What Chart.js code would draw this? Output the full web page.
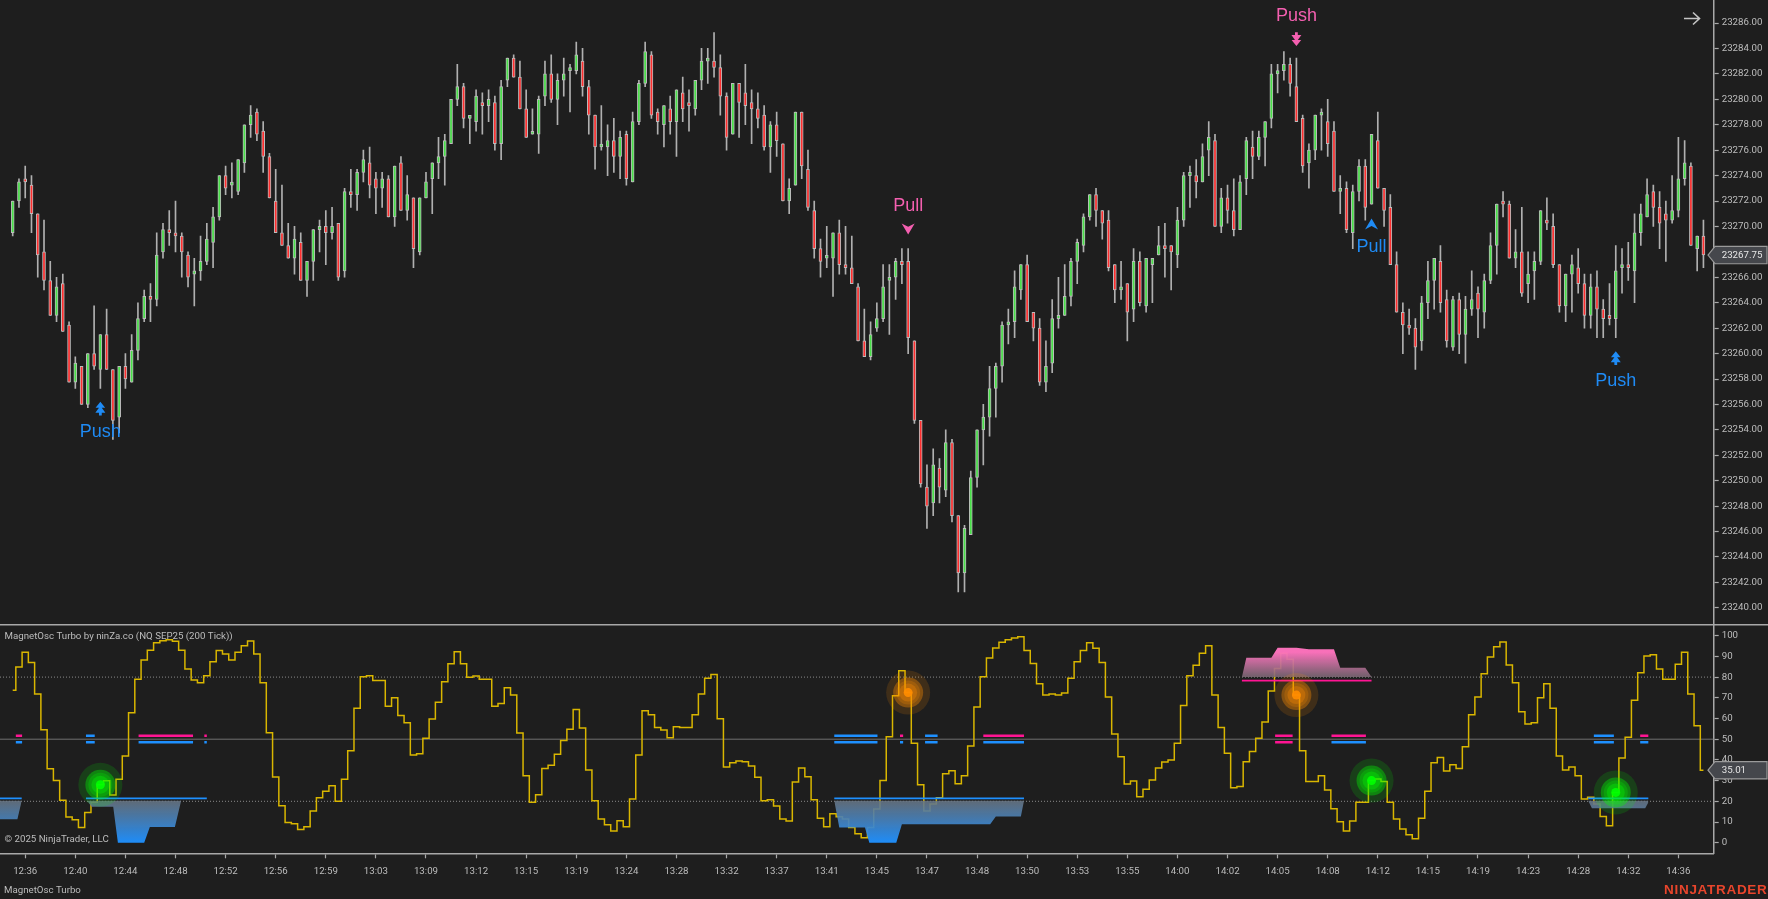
<!DOCTYPE html>
<html>
<head>
<meta charset="utf-8">
<script src="https://cdn.jsdelivr.net/npm/chart.js@4"></script>
<style>
html,body{margin:0;padding:0;background:#1e1e1e;overflow:hidden;width:1768px;height:899px}
canvas{position:absolute;left:0;display:block}
</style>
</head>
<body>
<canvas id="priceChart" width="1768" height="624" style="top:0;width:1768px;height:624px"></canvas>
<canvas id="oscChart" width="1768" height="275" style="top:624px;width:1768px;height:275px"></canvas>
<script>
const opens=[23269.5,23272,23273.75,23273.25,23271,23268,23265.75,23263,23265.5,23262.25,
23257.75,23259,23256,23260,23258.75,23261.5,23258.75,23255,23259,23257.75,
23260.25,23262.75,23264.5,23264.25,23268,23269.75,23269.5,23269.25,23267.75,23266.25,
23266.5,23267.25,23268.75,23270.75,23274,23273.25,23272.75,23275,23278,23279,
23277.5,23275.5,23272,23269.5,23268.5,23267.5,23268.75,23265.75,23267.25,23269.75,
23270,23269.5,23270.25,23266.5,23272.75,23272.5,23274.25,23275,23273.75,23273,
23273.75,23270.75,23275,23271.25,23272.25,23268,23272.25,23273.75,23275,23275.5,
23276.5,23280,23281,23278.5,23278.25,23279.75,23279.5,23279.75,23276.5,23281.5,
23283.25,23281.75,23279.25,23277.25,23277.25,23280.25,23282,23280,23281.5,23282.25,
23282.25,23283,23281,23278.75,23276.25,23276.25,23276.75,23275.5,23277.25,23273.5,
23278.25,23281.25,23283.5,23279,23278,23279.25,23278.25,23280.5,23279.75,23279.25,
23281.5,23283,23283,23282.5,23280.25,23277.25,23281.25,23280.5,23279.75,23279.25,
23278.75,23276.25,23278,23276.5,23272,23273.25,23279,23274.5,23271.25,23268.25,
23267.5,23267.5,23269.5,23267,23266.75,23265.25,23261,23259.75,23262,23262.75,
23265.75,23266,23267.25,23267.25,23261,23254.75,23249.5,23248.25,23251,23249.25,
23253,23247.25,23242.75,23245.75,23250.25,23254,23255,23257.25,23259,23262.25,
23262.5,23265,23267,23263.25,23262,23257.75,23259.25,23262.75,23263,23264.5,
23267.25,23268.5,23270.75,23272.5,23271.25,23270.5,23267,23265,23265.5,23263.5,
23267.25,23263.75,23267,23267.75,23268.5,23268.5,23267.75,23270.5,23274,23274,
23273.5,23276,23276.75,23270,23272.25,23271.25,23269.75,23273.75,23276.25,23275.5,
23277,23278.5,23282,23282.25,23282.75,23281,23278.5,23275,23276,23278.75,
23278.25,23277.5,23272.75,23273,23269.5,23272.75,23274.75,23271.75,23276.75,23273,
23271.5,23267,23263.25,23262.25,23262,23261,23264,23265.75,23267.25,23264.25,
23260.5,23264.25,23261.5,23263.5,23264.75,23263.25,23265.75,23268.5,23272,23271.75,
23267.5,23268,23265.5,23266.5,23267.25,23270.5,23270,23267,23263.75,23266.25,
23266.75,23265.5,23263,23265.25,23263.5,23263,23262.75,23266.75,23267,23266.5,
23269.5,23270.75,23272.75,23271.5,23271,23270.5,23271.25,23273.75,23274.75,23268.25,
23269.25];
const highs=[23272,23273.75,23274.75,23274,23271,23270.5,23267.25,23266,23266.25,23262.5,
23259.75,23259,23260,23263.75,23261.5,23263.5,23258.75,23259,23260,23261.5,
23264,23265,23265.5,23269.5,23270.25,23271.25,23272,23269.5,23268,23267.5,
23269.25,23270.25,23271.5,23274,23274.75,23275,23275.25,23278,23279.5,23279.25,
23278.25,23275.75,23274.5,23273.25,23270.25,23270,23269.5,23267.25,23269.75,23270.5,
23271.25,23271.5,23270.25,23273,23274.5,23274.5,23276,23276.25,23274.25,23274.25,
23274,23274.75,23275.5,23274,23272.25,23272.25,23274.25,23275,23277,23277.25,
23280,23282.75,23281.25,23278.5,23280.75,23280.5,23280.75,23280.25,23281.5,23283.25,
23283.5,23283,23280.75,23279.25,23280.25,23283,23283.5,23282,23283.25,23282.75,
23284.5,23284,23281.5,23278.75,23279.5,23278,23278.5,23277.5,23277.5,23279,
23281.5,23284.5,23283.75,23279.25,23279.5,23280.25,23280.75,23281.75,23280.75,23281.5,
23284,23284,23285.25,23283.5,23280.5,23281.25,23281.25,23282.75,23280.75,23280.5,
23279.5,23278.25,23279,23276.5,23273.75,23279,23279,23276,23272,23269,
23270,23269.5,23270.5,23270,23269.25,23265.5,23263.5,23262.5,23264,23267,
23267,23267.5,23268.25,23268.25,23261,23254.75,23251.25,23252.5,23251.75,23254,
23253.25,23247.25,23246.5,23250.75,23254,23256,23259,23259.25,23262.5,23263.5,
23266.5,23267,23267.75,23263.25,23262.75,23261,23264.25,23266,23267,23267.5,
23269,23271,23272.5,23273,23271.25,23271.25,23267,23267.25,23265.5,23268.25,
23268,23267.5,23267.5,23270,23270.25,23268.5,23271.5,23274.25,23274.75,23275.25,
23276.5,23278.25,23277.25,23273,23273.25,23273.75,23274,23277,23277.5,23277.5,
23278.25,23282.75,23282.75,23283.75,23283.25,23283.25,23278.75,23276.5,23278.75,23279.25,
23280,23278.25,23274,23273.5,23273.25,23275.25,23275.25,23277.25,23279,23273,
23272.5,23268,23264,23263.5,23262.75,23264.5,23267.25,23267.5,23268.5,23265,
23264.5,23264.75,23264.5,23266.5,23265.25,23266.25,23269.5,23271.75,23272.75,23272,
23269.75,23271.5,23268,23268,23271.25,23272.25,23271,23267,23266.25,23267.75,
23268.25,23266.25,23266.25,23266.5,23264.25,23265.5,23268.5,23268.25,23268.75,23271,
23271.75,23273.75,23273.25,23272.75,23272,23274,23277,23276.75,23275,23269.25,
23270.5];
const lows=[23269.25,23271.5,23272.25,23269.5,23266,23265,23263,23262.5,23261.75,23257.75,
23257.25,23256,23255.75,23258.75,23257.25,23258.75,23253.25,23253.75,23257.25,23257.75,
23259.5,23262.5,23262.5,23263.75,23267.5,23268.5,23268,23266,23265.25,23263.75,
23265.75,23267,23266.75,23270.5,23272.5,23272.25,23272.5,23274.25,23277,23276.75,
23274.25,23272.25,23269.5,23268.5,23267.5,23266.25,23265.75,23264.5,23265.75,23268,
23267,23269,23265.75,23266,23271.5,23271.25,23273.5,23272.25,23271,23271.5,
23270.75,23270,23271.25,23270.5,23266.75,23267.75,23272.25,23271,23273.75,23273.25,
23276.5,23279.5,23277.75,23276.5,23277.5,23277.25,23278.25,23276,23275.25,23281,
23281.75,23279.25,23277,23277.25,23275.75,23279.5,23279.75,23278,23280.25,23279,
23282,23280.25,23277.25,23274.5,23276,23274,23274.25,23273.75,23273.25,23273.5,
23278,23281,23278.5,23277.25,23276.25,23277.25,23275.5,23278.25,23277.5,23278.75,
23280.75,23281.25,23281.75,23278.75,23276,23277.25,23277,23278,23276.5,23277.75,
23276,23274.25,23275.5,23272,23271,23273.25,23273.75,23271.25,23267.5,23266,
23266.75,23264.5,23266.25,23266.25,23265.5,23261,23259.75,23259.5,23261.75,23262.5,
23261.5,23264.25,23265.5,23260,23254.5,23249.5,23246.25,23247.25,23248.25,23248.75,
23246.75,23241.25,23241.25,23245.75,23249.5,23251.25,23253.5,23255,23257.75,23260.75,
23261.25,23264.25,23262.5,23261,23257.5,23257,23258.5,23262,23263,23263.75,
23265.5,23268,23270.5,23270,23269,23266.5,23264,23264.25,23261,23262.5,
23263.75,23263.25,23264,23267.75,23266,23265,23266.75,23270,23271.5,23272.25,
23273.5,23274,23270,23269.5,23270.25,23269.25,23269.75,23272.5,23273.75,23275.25,
23274.75,23277.75,23280.5,23281.5,23280.25,23278.25,23274.25,23273,23275.25,23276,
23275.5,23272.75,23271,23269.5,23268.25,23272,23270.5,23271.75,23273,23270,
23267,23263.25,23260,23261.5,23258.75,23260.25,23262.75,23263.5,23263.25,23260.5,
23260.25,23260,23259.25,23263,23261.25,23262,23265.5,23266.25,23270.75,23267.5,
23266.75,23264.5,23264,23264.25,23267,23269.75,23266.75,23263.25,23262.5,23263.25,
23264.75,23262,23262,23261.25,23261.25,23262.25,23261.25,23264.75,23265.75,23264,
23268.5,23270.75,23270,23268.25,23267.25,23270.25,23270.75,23273.25,23268.5,23266.5,
23266.75];
const closes=[23272,23273.5,23273.5,23271,23267.75,23265.75,23263,23265.25,23261.75,23257.75,
23259.25,23256,23260,23259,23261.5,23258.75,23254.75,23259,23258,23260.25,
23262.75,23264.5,23264.25,23267.75,23269.75,23269.5,23269.25,23268,23266,23266.5,
23267.25,23269,23270.75,23274,23273,23273.25,23275.25,23278,23278.75,23277.25,
23275.5,23272.25,23269.5,23268.5,23267.5,23269,23265.75,23267.25,23269.75,23270,
23269.5,23270,23266,23272.75,23272.5,23274.25,23275.25,23273.25,23273,23273.75,
23270.75,23274.75,23271.25,23272.5,23268.25,23272.25,23273.5,23275,23275.5,23276.75,
23280,23281,23278.5,23278.5,23280.25,23279.5,23280,23276.5,23281,23283.25,
23281.75,23279.25,23277,23277.25,23280,23282,23280,23281.5,23282,23282.25,
23283.5,23281,23278.75,23276.25,23276.25,23276.75,23275.5,23277,23273.75,23278.25,
23281.25,23283.75,23278.75,23278.25,23279.5,23278.25,23280.75,23279.25,23279.5,23281.5,
23283,23283.25,23282.5,23280.25,23277,23281.25,23279.75,23279.5,23279.25,23278.5,
23276.25,23278,23276.75,23272,23273,23279,23274.75,23271.5,23268.25,23267.25,
23267.5,23269.5,23267,23266.75,23265.5,23261,23259.75,23261.5,23262.75,23265.25,
23266,23267.25,23267,23261.25,23254.75,23249.75,23248,23251.25,23249.5,23253,
23247.25,23242.75,23246.25,23250.25,23254,23255,23257.25,23259,23262.25,23262.5,
23265.25,23267,23262.5,23262,23257.75,23259,23262.75,23263,23264.5,23267.25,
23268.75,23270.75,23272.5,23271.25,23270.25,23266.75,23265,23265.25,23263.25,23267.25,
23264,23267.5,23267.5,23268.5,23268.25,23268,23270.5,23274,23274.25,23273.5,
23275.5,23277,23270,23272.25,23271.25,23269.75,23273.5,23276.75,23275.5,23277,
23278.25,23282,23282.25,23282.75,23281.25,23278.25,23274.75,23276,23278.75,23278.75,
23276.5,23272.75,23273,23269.75,23272.75,23274.75,23271.5,23277.25,23273,23271.25,
23267,23263.25,23262.25,23262,23260.5,23264,23265.75,23267.5,23264,23261,
23264.25,23261.5,23263.5,23264.25,23263.5,23265.75,23268.5,23271.75,23271.75,23267.5,
23268,23264.75,23266.25,23267.25,23271.25,23270.25,23267,23263.75,23266.25,23267,
23265.5,23263,23265.25,23263.5,23262.75,23262.75,23266.5,23267,23266.75,23269.5,
23271,23272.5,23271.5,23270.25,23270.5,23271.25,23273.75,23275,23268.5,23269.25,
23267.75];
const oscValues=[73.6,84.9,92,87,71.8,54.6,35.7,30.1,20.5,12.4,
11.1,7.4,14.6,19.5,28,29.9,23.1,30.6,41.9,62.8,
78.9,88.2,93,96.6,97.6,98,97.3,93,83.9,78.6,
77.3,80.7,87.4,92.8,91.1,88.2,92,95.2,97.4,91.1,
77.3,53.1,31.7,17.9,9.7,9.2,6.4,7.7,15.3,21.7,
24.8,27.5,20,30.6,44.4,65,80.2,80.7,78.3,78.3,
65.9,70,61.4,58,42.4,43,50.4,59.7,67.8,77.8,
86.5,92.3,86.5,79.9,80.5,78.9,78.9,65.9,67.3,74.9,
71.3,53,32.4,19.5,23.2,35.9,37.4,42.7,49.4,54.8,
64.4,55.4,35.1,20.3,11.4,8.7,5.6,10.6,7.7,21.1,
42.4,63.8,61.8,55.7,54.4,50.7,56,55.7,55.7,61.8,
71.8,79.4,81.2,59.9,36.6,38.6,39.5,39.1,37,31.6,
20.3,20.8,17.7,11.4,10.5,29.3,36.1,31.9,20.8,11.8,
7.7,14,12.5,11.4,7.4,4.3,2.4,7.4,16.3,30.1,
51.2,71,83.1,72.5,48,28,15.3,18.7,21.7,33.3,
34.8,28.5,32.4,46.7,65.5,80.2,89.2,94,96.8,98,
98.9,99.5,92.8,86.6,76.8,71.3,71.8,71.3,72.3,79.5,
87.4,92.8,96.6,93.9,87.1,70.4,52.5,41.5,28.3,29.8,
22.2,25.8,30.3,36.1,39,39.9,48.1,66.3,80.7,85.7,
91.5,95.2,71.3,55.7,43.2,26.6,27.2,39.1,44,50.4,
58.3,73.3,84.2,91.5,88.6,71.3,44.4,29.6,29.6,32.4,
25.4,16.4,10.1,5.6,10.5,19.5,19.5,30,30.8,29.6,
19.5,11.4,6.6,3.9,1.9,11.8,24.8,38.6,41.1,34.6,
37.7,35.9,46.4,61.8,70.4,81.6,89.7,94.7,96.9,85.8,
77.3,63.3,57.3,58,70,76.8,65,41.9,35.1,36.6,
32.4,21.1,22,18.7,12.7,8.2,24.3,40.9,50.9,68.8,
82.1,90.2,90.8,83.9,78.9,78.9,86.2,92,71.8,56.5,
35.01];

const timeTickBars=[2,10,18,26,34,42,50,58,66,74,82,90,98,106,114,122,130,138,146,154,162,170,178,186,194,202,210,218,226,234,242,250,258,266];
const timeTickLabels=['12:36','12:40','12:44','12:48','12:52','12:56','12:59','13:03','13:09','13:12','13:15','13:19','13:24','13:28','13:32','13:37','13:41','13:45','13:47','13:48','13:50','13:53','13:55','14:00','14:02','14:05','14:08','14:12','14:15','14:19','14:23','14:28','14:32','14:36'];
const oscLevels=[80,50,20];

const signalBars=[14,143,205,217,256];
const signalPrices=[23255.66,23269.8,23284.74,23270.2,23259.63];
const signalTexts=['Push','Pull','Push','Pull','Push'];
const signalSides=['up','down','down','up','up'];

const bullZoneBars=[-3,0.75,1.44,null,11.9,12.6,16.05,16.8,21,21.9,25.9,26.9,null,131.2,132,136.1,136.8,141.1,142,156.1,157,161,161.5,null,251.6,252.2,260.7,261.2];
const bullZoneLows=[11.3,11.3,20.3,null,20.3,17.4,17.4,0,0,7.6,7.6,20.3,null,20.3,7.4,7.4,0,0,8.9,8.9,12.6,12.6,20.3,null,20.3,16.6,16.6,19.4];
const bearZoneBars=[196.3,197,201,202,205,207,211,212,216,217];
const bearZoneHighs=[80,89.4,89.4,94.2,94.2,93.4,93.4,84.5,84.5,80];
const bullRangeBars=[-3,1.44,null,11.7,31,null,131.2,161.5,null,251.6,261.2];
const bearRangeBars=[196.3,217];
const pinkUpperDashes=[0.5,1.5,20.1,28.8,30.6,31,141.7,142.2,155,161.5,201.6,204.4,210.6,216.1,259.9,261.2];
const blueUpperDashes=[11.7,13.1,131.2,138.1,145.7,147.7,252.5,255.7];
const blueLowerDashes=[0.5,1.5,11.7,13.1,20.1,28.8,30.6,31,131.2,138.1,141.7,142.2,145.7,147.7,155,161.5,210.6,216.1,252.5,255.7,259.9,261.2];
const pinkLowerDashes=[201.6,204.4];
const greenDotBars=[14,217,256];
const orangeDotBars=[143,205];

const BG='#1e1e1e', AXIS='#a8a8a8', TEXT='#bdbdbd', UI_FONT='Roboto', UI_SIZE=9.7;
const BLUE='#1e90ff', PINK='#ff1493', LABEL_PINK='#f45fb0', LABEL_BLUE='#1f8bf5';
const xMin=-2.028, xMax=271.64, axisW=54.3;

Chart.defaults.font.family=UI_FONT;
Chart.defaults.font.size=UI_SIZE;
Chart.defaults.color=TEXT;

function flag(ctx,y,text){
  const tip=1708, l=1715, r=1767, h=8.7;
  ctx.save();
  ctx.beginPath();
  ctx.moveTo(tip,y);ctx.lineTo(l,y-h);ctx.lineTo(r,y-h);ctx.lineTo(r,y+h);ctx.lineTo(l,y+h);ctx.closePath();
  ctx.fillStyle='#45474c';ctx.fill();
  ctx.lineWidth=1.2;ctx.strokeStyle='#9a9a9a';ctx.stroke();
  ctx.fillStyle='#e6e6e6';ctx.font=UI_SIZE+'px '+UI_FONT;ctx.textAlign='left';ctx.textBaseline='middle';
  ctx.fillText(text,1721.7,y+0.5);
  ctx.restore();
}
function glyph(ctx,kind,side,x,y,color){
  const s=side==='up'?1:-1;
  ctx.save();ctx.translate(x,y);ctx.scale(1,s);ctx.fillStyle=color;
  ctx.beginPath();
  if(kind==='Push'){
    ctx.moveTo(0,-7);ctx.lineTo(4.8,-1);ctx.lineTo(1.4,-1);ctx.lineTo(5,4);ctx.lineTo(1.4,4);ctx.lineTo(1.4,6.8);
    ctx.lineTo(-1.4,6.8);ctx.lineTo(-1.4,4);ctx.lineTo(-5,4);ctx.lineTo(-1.4,-1);ctx.lineTo(-4.8,-1);
  }else{
    ctx.moveTo(0,-5.5);ctx.lineTo(6.5,5.5);ctx.lineTo(0,2.2);ctx.lineTo(-6.5,5.5);
  }
  ctx.closePath();ctx.fill();ctx.restore();
}
const priceOverlay={id:'priceOverlay',afterDraw(chart){
  const ctx=chart.ctx,xs=chart.scales.x,ys=chart.scales.y;
  signalBars.forEach((b,i)=>{
    const x=xs.getPixelForValue(b),y=ys.getPixelForValue(signalPrices[i]);
    const up=signalSides[i]==='up',color=(up?LABEL_BLUE:LABEL_PINK);
    glyph(ctx,signalTexts[i],signalSides[i],x,y,color);
    ctx.save();ctx.fillStyle=color;ctx.font='18px "Liberation Sans"';ctx.textAlign='center';ctx.textBaseline='middle';
    ctx.fillText(signalTexts[i],x,y+(up?23:-23));ctx.restore();
  });
  ctx.save();ctx.strokeStyle='#c4c4c4';ctx.lineWidth=1.6;ctx.beginPath();
  ctx.moveTo(1684,18.5);ctx.lineTo(1699,18.5);ctx.moveTo(1693,12.5);ctx.lineTo(1699.5,18.5);ctx.lineTo(1693,24.5);ctx.stroke();ctx.restore();
  flag(ctx,ys.getPixelForValue(closes[closes.length-1]),closes[closes.length-1].toFixed(2));
}};
const oscOverlay={id:'oscOverlay',afterDraw(chart){
  const ctx=chart.ctx,ys=chart.scales.y;
  ctx.save();
  ctx.strokeStyle=AXIS;ctx.lineWidth=1.5;ctx.beginPath();ctx.moveTo(0,0.7);ctx.lineTo(1768,0.7);ctx.stroke();
  ctx.fillStyle=TEXT;ctx.textAlign='left';ctx.textBaseline='middle';ctx.font=UI_SIZE+'px '+UI_FONT;
  ctx.fillText('MagnetOsc Turbo by ninZa.co (NQ SEP25 (200 Tick))',4.5,12.7);
  ctx.fillText('\u00A9 2025 NinjaTrader, LLC',4.5,216);
  ctx.fillText('MagnetOsc Turbo',4,266.7);
  ctx.fillStyle='#e8452c';ctx.font='bold 13.5px "Liberation Sans"';ctx.textAlign='right';
  ctx.letterSpacing='0.7px';ctx.fillText('NINJATRADER',1767.5,266);ctx.letterSpacing='0px';
  ctx.restore();
  flag(ctx,ys.getPixelForValue(oscValues[oscValues.length-1]),oscValues[oscValues.length-1].toFixed(2));
}};

function yScale(min,max,step,fmt){
  return {type:'linear',position:'right',min,max,
    afterFit(s){s.width=axisW;s.paddingTop=0;s.paddingBottom=0;},
    border:{color:AXIS,width:1.5},
    grid:{drawOnChartArea:false,drawTicks:true,tickLength:5,tickColor:AXIS,tickWidth:1.2},
    ticks:{stepSize:step,includeBounds:false,autoSkip:false,padding:3,color:TEXT,callback:fmt}};
}
const up=i=>closes[i]>=opens[i];
const allBars=opens.map((_,i)=>i);
const bodySet=(list,fill)=>({type:'bar',grouped:false,barThickness:3,minBarLength:3,borderWidth:1,borderColor:'#bcbcbc',borderSkipped:false,backgroundColor:fill,order:1,
  data:list.map(i=>({x:i,y:[Math.min(opens[i],closes[i]),Math.max(opens[i],closes[i])]}))});

new Chart(document.getElementById('priceChart'),{
  type:'bar',
  data:{datasets:[
    {type:'bar',grouped:false,barThickness:1,backgroundColor:'#b0b0b0',borderWidth:0,order:2,data:allBars.map(i=>({x:i,y:[lows[i],highs[i]]}))},
    bodySet(allBars.filter(up),'#48e048'),
    bodySet(allBars.filter(i=>!up(i)),'#ff2e2e')
  ]},
  options:{responsive:false,animation:false,events:[],devicePixelRatio:1,
    layout:{padding:0,autoPadding:false},
    plugins:{legend:{display:false},tooltip:{enabled:false}},
    scales:{
      x:{type:'linear',min:xMin,max:xMax,offset:false,display:false,grid:{display:false,offset:false}},
      y:yScale(23238.73,23287.81,2,v=>Number(v).toFixed(2))
    }},
  plugins:[priceOverlay]
});

const pts=(xs,ys)=>xs.map((x,i)=>({x:x===null?NaN:x,y:ys[i]}));
const levelPts=(xs,v)=>xs.map(x=>({x:x===null?NaN:x,y:x===null?null:v}));
const dashPts=(list,v)=>{const out=[];for(let i=0;i<list.length;i+=2){out.push({x:list[i],y:v},{x:list[i+1],y:v});if(i+2<list.length)out.push({x:list[i+1],y:null});}return out;};
const lineBase={type:'line',pointRadius:0,tension:0,fill:false,spanGaps:false};
function gradient(ctx,vFrom,vTo,c0,c1){
  const c=ctx.chart;if(!c.chartArea)return c1;
  const y=c.scales.y,g=c.ctx.createLinearGradient(0,y.getPixelForValue(vFrom),0,y.getPixelForValue(vTo));
  g.addColorStop(0,c0);g.addColorStop(1,c1);return g;
}
const dotLayer=(bars,color,r,ord)=>({type:'line',showLine:false,pointRadius:r,pointBorderWidth:0,pointBackgroundColor:color,order:ord,data:bars.map(b=>({x:b,y:oscValues[b]}))});

new Chart(document.getElementById('oscChart'),{
  type:'line',
  data:{datasets:[
    ...oscLevels.map(v=>({...lineBase,order:7,borderWidth:1,borderColor:v===50?'#707070':'#8a8a8a',borderDash:v===50?[]:[1,2],data:[{x:xMin,y:v},{x:xMax,y:v}]})),
    {...lineBase,order:5,stepped:'middle',borderWidth:1.5,borderColor:'#d9b600',data:oscValues.map((v,i)=>({x:i,y:v}))},
    {...lineBase,order:3,borderWidth:0,fill:{value:20.3},backgroundColor:ctx=>gradient(ctx,20.3,0,'rgba(105,118,132,0.88)','rgba(30,144,255,0.97)'),data:pts(bullZoneBars,bullZoneLows)},
    {...lineBase,order:3,borderWidth:0,fill:{value:80},backgroundColor:ctx=>gradient(ctx,80,92,'rgba(125,105,118,0.88)','rgba(255,115,190,0.97)'),data:pts(bearZoneBars,bearZoneHighs)},
    {...lineBase,order:2,borderWidth:1.6,borderColor:BLUE,data:levelPts(bullRangeBars,21.4)},
    {...lineBase,order:2,borderWidth:1.6,borderColor:PINK,data:levelPts(bearRangeBars,78.3)},
    {...lineBase,order:2,borderWidth:2.6,borderColor:PINK,data:dashPts(pinkUpperDashes,51.7)},
    {...lineBase,order:2,borderWidth:2.6,borderColor:BLUE,data:dashPts(blueUpperDashes,51.7)},
    {...lineBase,order:2,borderWidth:2.6,borderColor:BLUE,data:dashPts(blueLowerDashes,48.5)},
    {...lineBase,order:2,borderWidth:2.6,borderColor:PINK,data:dashPts(pinkLowerDashes,48.5)},
    dotLayer(greenDotBars,'rgba(0,255,0,0.15)',22,1.5),
    dotLayer(greenDotBars,'rgba(0,255,0,0.36)',15,1.4),
    dotLayer(greenDotBars,'rgba(0,255,0,0.22)',12,1.3),
    dotLayer(greenDotBars,'rgba(0,255,0,0.3)',9,1.2),
    dotLayer(greenDotBars,'rgba(0,255,0,0.92)',4.5,1.1),
    dotLayer(orangeDotBars,'rgba(255,140,0,0.15)',22,1.5),
    dotLayer(orangeDotBars,'rgba(255,140,0,0.36)',15,1.4),
    dotLayer(orangeDotBars,'rgba(255,140,0,0.22)',12,1.3),
    dotLayer(orangeDotBars,'rgba(255,140,0,0.3)',9,1.2),
    dotLayer(orangeDotBars,'rgba(255,140,0,0.92)',4.5,1.1)
  ]},
  options:{responsive:false,animation:false,events:[],devicePixelRatio:1,
    layout:{padding:0,autoPadding:false},
    plugins:{legend:{display:false},tooltip:{enabled:false}},
    scales:{
      x:{type:'linear',min:xMin,max:xMax,
        afterFit(s){s.height=45.7;s.paddingLeft=0;s.paddingRight=0;},
        afterBuildTicks(s){s.ticks=timeTickBars.map(value=>({value}));},
        border:{color:AXIS,width:1.5},
        grid:{drawOnChartArea:false,drawTicks:true,tickLength:5,tickColor:AXIS,tickWidth:1.2},
        ticks:{autoSkip:false,maxRotation:0,minRotation:0,padding:7,color:TEXT,callback:v=>timeTickLabels[timeTickBars.indexOf(v)]}},
      y:yScale(-5.12,105.65,10,v=>String(v))
    }},
  plugins:[oscOverlay]
});
</script>
</body>
</html>
